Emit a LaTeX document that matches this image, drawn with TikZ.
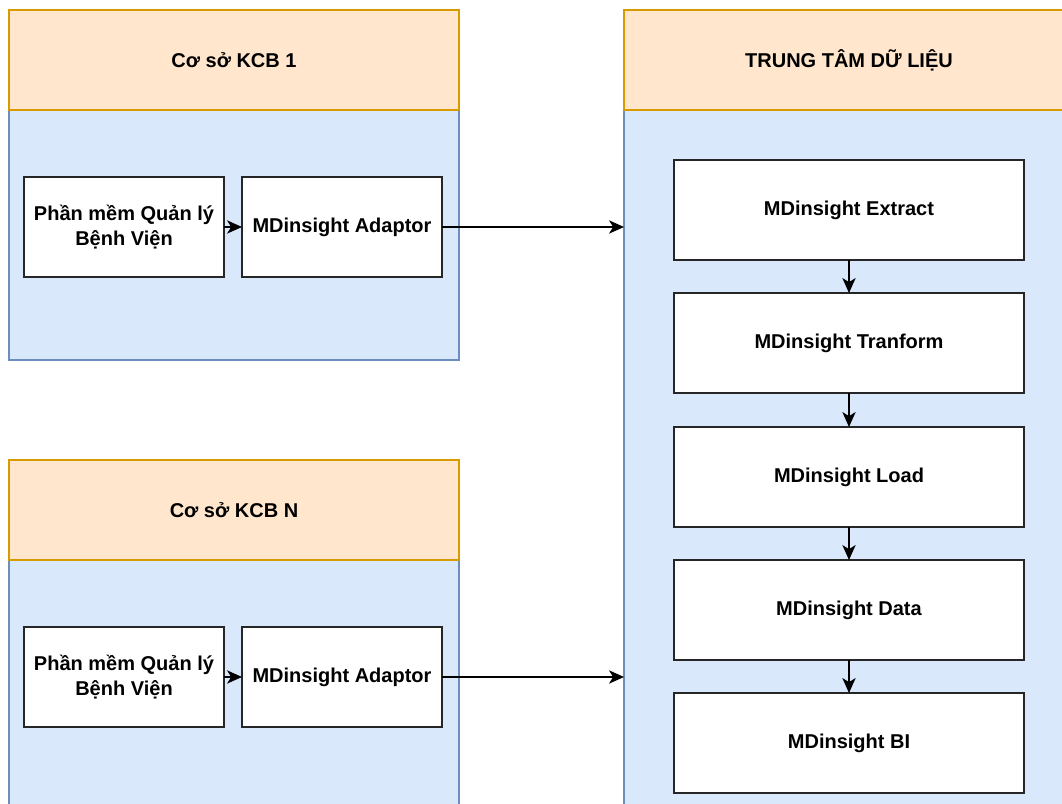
\documentclass[tikz,border=0pt]{standalone}
\usepackage{fontspec}
\setmainfont{Liberation Sans}
\usetikzlibrary{arrows.meta}
\definecolor{hdrfill}{HTML}{FFE6CC}
\definecolor{hdrline}{HTML}{D79B00}
\definecolor{bodyfill}{HTML}{DAE8FC}
\definecolor{bodyline}{HTML}{6C8EBF}

\begin{document}
\begin{tikzpicture}[x=0.6pt,y=-0.6pt,
    every node/.style={outer sep=0pt,font=\bfseries\fontsize{12}{15}\selectfont},
    hdr/.style={draw=hdrline,fill=hdrfill,line width=0.9pt,anchor=north west,minimum height=60pt},
    body/.style={draw=bodyline,fill=bodyfill,line width=0.9pt,anchor=north west},
    box/.style={draw=black!85,fill=white,line width=0.9pt,anchor=north west,minimum height=60pt,align=center},
    arr/.style={-{Stealth[length=9pt,width=8pt,inset=2.5pt]},line width=0.75pt}]
    \useasboundingbox (0,0) rectangle (1062,804);
    \clip (0,0) rectangle (1062,804);
    %containers
    \node[body,minimum width=270pt,minimum height=150pt] (b1) at (9,110) {};
    \node[hdr,minimum width=270pt] (h1) at (9,10) {Cơ sở KCB 1};
    \node[body,minimum width=270pt,minimum height=160pt] (bn) at (9,560) {};
    \node[hdr,minimum width=270pt] (hn) at (9,460) {Cơ sở KCB N};
    \node[body,minimum width=270pt,minimum height=440pt] (tt) at (624,110) {};
    \node[hdr,minimum width=270pt] (htt) at (624,10) {TRUNG TÂM DỮ LIỆU};
    %hospital side
    \node[box,minimum width=120pt] (pm1) at (24,177) {Phần mềm Quản lý\\Bệnh Viện};
    \node[box,minimum width=120pt] (ad1) at (242,177) {MDinsight Adaptor};
    \node[box,minimum width=120pt] (pmn) at (24,627) {Phần mềm Quản lý\\Bệnh Viện};
    \node[box,minimum width=120pt] (adn) at (242,627) {MDinsight Adaptor};
    %data center
    \node[box,minimum width=210pt] (ext) at (674,160) {MDinsight Extract};
    \node[box,minimum width=210pt] (tra) at (674,293) {MDinsight Tranform};
    \node[box,minimum width=210pt] (loa) at (674,427) {MDinsight Load};
    \node[box,minimum width=210pt] (dat) at (674,560) {MDinsight Data};
    \node[box,minimum width=210pt] (bi) at (674,693) {MDinsight BI};
    %arrows
    \draw[arr] (pm1) -- (ad1);
    \draw[arr] (pmn) -- (adn);
    \draw[arr] (ad1) -- (ad1 -| tt.west);
    \draw[arr] (adn) -- (adn -| tt.west);
    \draw[arr] (ext) -- (tra);
    \draw[arr] (tra) -- (loa);
    \draw[arr] (loa) -- (dat);
    \draw[arr] (dat) -- (bi);
\end{tikzpicture}
\end{document}
